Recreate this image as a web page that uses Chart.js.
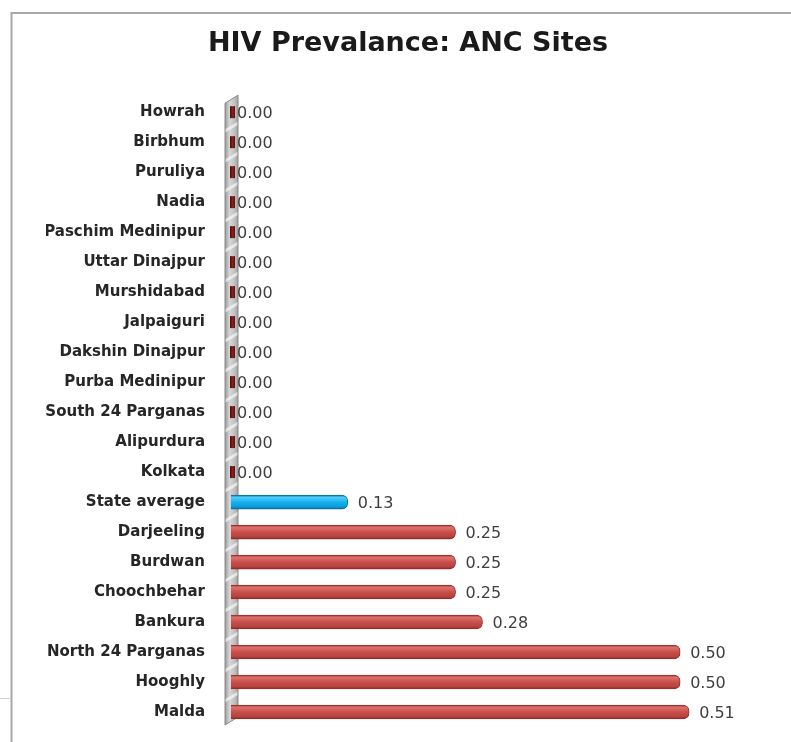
<!DOCTYPE html>
<html>
<head>
<meta charset="utf-8">
<script src="https://cdn.jsdelivr.net/npm/chart.js@4.4.1/dist/chart.umd.min.js"></script>
<style>
  html, body { margin: 0; padding: 0; background: #ffffff; }
  #wrap { width: 791px; height: 742px; position: relative; }
</style>
</head>
<body>
<div id="wrap"><canvas id="c" width="791" height="742"></canvas></div>
<script>
// ---- data ----
const titleText = 'HIV Prevalance: ANC Sites';
const categories = ['Howrah', 'Birbhum', 'Puruliya', 'Nadia', 'Paschim Medinipur', 'Uttar Dinajpur',
  'Murshidabad', 'Jalpaiguri', 'Dakshin Dinajpur', 'Purba Medinipur', 'South 24 Parganas',
  'Alipurdura', 'Kolkata', 'State average', 'Darjeeling', 'Burdwan', 'Choochbehar', 'Bankura',
  'North 24 Parganas', 'Hooghly', 'Malda'];
const prevalence = [0.00, 0.00, 0.00, 0.00, 0.00, 0.00, 0.00, 0.00, 0.00, 0.00, 0.00, 0.00, 0.00,
  0.13, 0.25, 0.25, 0.25, 0.28, 0.50, 0.50, 0.51];
const highlightCategory = 'State average';

// ---- styling helpers ----
function barFill(ctx) {
  const chart = ctx.chart;
  const isBlue = categories[ctx.dataIndex] === highlightCategory;
  const base = isBlue ? '#12b0ee' : '#c84e4a';
  if (!chart.chartArea || !chart.scales.y) return base;
  const y = chart.scales.y.getPixelForValue(ctx.dataIndex);
  const g = chart.ctx.createLinearGradient(0, y - 7, 0, y + 7);
  if (isBlue) {
    g.addColorStop(0, '#0a7fb8');
    g.addColorStop(0.18, '#52cdf8');
    g.addColorStop(0.5, '#13b1ef');
    g.addColorStop(0.85, '#0e9ad6');
    g.addColorStop(1, '#06679a');
  } else {
    g.addColorStop(0, '#a63d3a');
    g.addColorStop(0.18, '#dd706b');
    g.addColorStop(0.5, '#c94f4b');
    g.addColorStop(0.85, '#b5423e');
    g.addColorStop(1, '#7a2321');
  }
  return g;
}
function barBorder(ctx) {
  return categories[ctx.dataIndex] === highlightCategory ? '#0a6fa3' : '#9a302d';
}

// ---- decoration plugins ----
const framePlugin = {
  id: 'frame',
  beforeDraw(chart) {
    const c = chart.ctx;
    c.save();
    c.fillStyle = '#ffffff';
    c.fillRect(0, 0, chart.width, chart.height);
    c.strokeStyle = '#a8a8a8';
    c.lineWidth = 2;
    c.beginPath();
    c.moveTo(11.5, chart.height);
    c.lineTo(11.5, 13);
    c.lineTo(chart.width, 13);
    c.stroke();
    c.strokeStyle = '#d0d0d0';
    c.lineWidth = 1;
    c.beginPath();
    c.moveTo(0, 698.5);
    c.lineTo(11, 698.5);
    c.stroke();
    c.restore();
  }
};

const wallPlugin = {
  id: 'wall',
  beforeDatasetsDraw(chart) {
    const c = chart.ctx;
    const a = chart.chartArea;
    const z = chart.scales.x.getPixelForValue(0);
    const L = z - 6, R = z + 7;
    const top = a.top, bot = a.bottom;
    c.save();
    c.beginPath();
    c.moveTo(L, top + 6);
    c.lineTo(R, top - 2);
    c.lineTo(R, bot - 10);
    c.lineTo(L, bot - 2);
    c.closePath();
    const g = c.createLinearGradient(L, 0, R, 0);
    g.addColorStop(0, '#9a9a9a');
    g.addColorStop(0.35, '#d6d6d6');
    g.addColorStop(0.7, '#c4c4c4');
    g.addColorStop(1, '#a2a2a2');
    c.fillStyle = g;
    c.fill();
    c.clip();
    const yScale = chart.scales.y;
    c.strokeStyle = 'rgba(255,255,255,0.6)';
    c.lineWidth = 3;
    for (let i = 0; i <= categories.length; i++) {
      const yb = yScale.getPixelForValue(i) - 15;
      c.beginPath();
      c.moveTo(L - 2, yb + 5);
      c.lineTo(R + 2, yb - 5);
      c.stroke();
    }
    c.restore();
    c.save();
    c.strokeStyle = '#888888';
    c.lineWidth = 1;
    c.beginPath();
    c.moveTo(L, top + 6);
    c.lineTo(R, top - 2);
    c.lineTo(R, bot - 10);
    c.lineTo(L, bot - 2);
    c.closePath();
    c.stroke();
    c.restore();
  }
};

const valuePlugin = {
  id: 'values',
  afterDatasetsDraw(chart) {
    const c = chart.ctx;
    const meta = chart.getDatasetMeta(0);
    const z = chart.scales.x.getPixelForValue(0);
    c.save();
    c.font = '16px "DejaVu Sans"';
    c.textAlign = 'left';
    c.textBaseline = 'middle';
    meta.data.forEach((el, i) => {
      const v = prevalence[i];
      let x;
      if (v === 0) {
        const g = c.createLinearGradient(z - 1, 0, z + 4, 0);
        g.addColorStop(0, '#4a0c0a');
        g.addColorStop(0.5, '#8a1f1b');
        g.addColorStop(1, '#5a100e');
        c.fillStyle = g;
        c.fillRect(z - 1, el.y - 6, 5, 12);
        x = z + 6;
      } else {
        x = el.x + 10;
      }
      c.fillStyle = '#404040';
      c.fillText(v.toFixed(2), x, el.y + 2);
    });
    c.restore();
  }
};

const chart = new Chart(document.getElementById('c'), {
  type: 'bar',
  data: {
    labels: categories,
    datasets: [{
      data: prevalence,
      backgroundColor: barFill,
      borderColor: barBorder,
      borderWidth: 1,
      borderSkipped: 'start',
      borderRadius: 6,
      barThickness: 14
    }]
  },
  options: {
    indexAxis: 'y',
    responsive: false,
    animation: false,
    events: [],
    layout: { padding: { left: 46, right: 21, top: 0, bottom: 15 } },
    plugins: {
      legend: { display: false },
      tooltip: { enabled: false },
      title: {
        display: true,
        text: titleText,
        color: '#1a1a1a',
        font: { family: '"DejaVu Sans"', size: 27, weight: 'bold', lineHeight: 1.2 },
        padding: { top: 28, bottom: 36.8 }
      }
    },
    scales: {
      x: {
        min: 0,
        max: 0.6,
        display: false,
        afterFit(scale) { scale.height = 0; }
      },
      y: {
        offset: true,
        grid: { display: false, drawTicks: false },
        border: { display: false },
        ticks: {
          color: '#262626',
          font: { family: '"DejaVu Sans"', size: 15, weight: 'bold' },
          padding: 26
        },
        afterFit(scale) { scale.width = 185; scale.paddingTop = 0; scale.paddingBottom = 0; }
      }
    }
  },
  plugins: [framePlugin, wallPlugin, valuePlugin]
});
</script>
</body>
</html>
